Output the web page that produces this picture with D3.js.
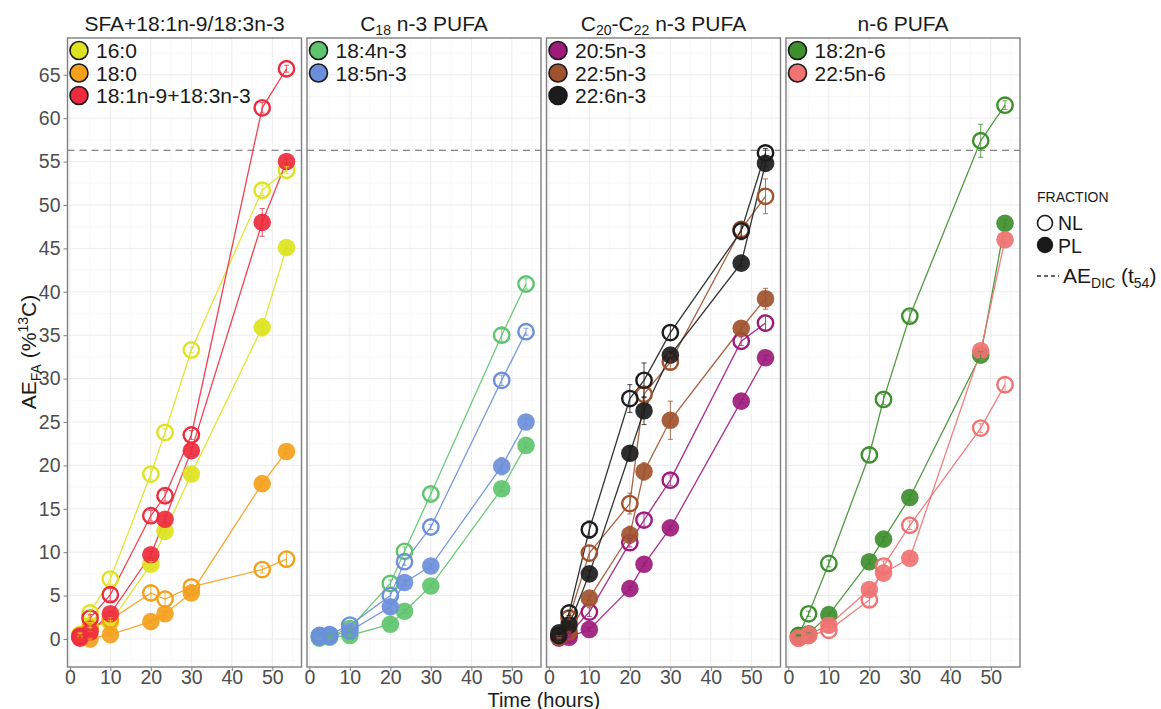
<!DOCTYPE html>
<html><head><meta charset="utf-8">
<script src="https://cdn.jsdelivr.net/npm/d3@7"></script>
<style>
body{margin:0;background:#fff}
text{font-family:"Liberation Sans",Arial,Helvetica,sans-serif}
</style>
</head><body>
<svg id="c" width="1161" height="709"></svg>
<script>
// ---------------- DATA ----------------
const times = [2.5, 5, 10, 20, 23.5, 30, 47.5, 53.5];
const xTicks = [0, 10, 20, 30, 40, 50];
const yTicks = [0, 5, 10, 15, 20, 25, 30, 35, 40, 45, 50, 55, 60, 65];
const aeDIC = 56.3;

const fattyAcids = ["16:0", "18:0", "18:1n-9+18:3n-3", "18:4n-3", "18:5n-3",
                    "20:5n-3", "22:5n-3", "22:6n-3", "18:2n-6", "22:5n-6"];
const faPanel = [0, 0, 0, 1, 1, 2, 2, 2, 3, 3];
const faColors = ["#dde31e", "#f5a01c", "#ee2b3e", "#5ec46d", "#6c8fdb",
                  "#9e1b7b", "#a0522d", "#1c1c1c", "#3e8f2e", "#f07272"];

// NL fraction (open circles), AE_FA %13C
const nlValues = [
  [0.5, 3.0, 6.9, 19.0, 23.8, 33.3, 51.7, 54.0],
  [0.4, 1.2, 2.2, 5.3, 4.6, 6.0, 8.0, 9.2],
  [0.3, 2.4, 5.1, 14.2, 16.5, 23.5, 61.2, 65.7],
  [0.3, 0.4, 1.2, 6.4, 10.1, 16.7, 35.0, 40.9],
  [0.4, 0.5, 1.6, 5.0, 8.9, 12.9, 29.8, 35.4],
  [0.3, 0.6, 3.1, 11.1, 13.7, 18.3, 34.3, 36.4],
  [0.2, 2.4, 9.9, 15.6, 28.2, 31.9, 47.2, 51.0],
  [0.4, 3.0, 12.6, 27.7, 29.8, 35.3, 47.0, 56.0],
  [0.4, 2.9, 8.7, 21.2, 27.6, 37.2, 57.4, 61.5],
  [0.1, 0.4, 1.0, 4.5, 8.4, 13.1, 24.3, 29.3]
];
// PL fraction (filled circles)
const plValues = [
  [0.3, 1.5, 1.9, 8.6, 12.4, 19.0, 35.9, 45.1],
  [0.2, 0.0, 0.5, 2.0, 2.9, 5.3, 17.9, 21.6],
  [0.1, 0.8, 2.9, 9.7, 13.8, 21.7, 48.0, 55.0],
  [0.1, 0.2, 0.4, 1.7, 3.2, 6.1, 17.3, 22.3],
  [0.2, 0.3, 0.9, 3.7, 6.5, 8.4, 19.9, 25.0],
  [0.1, 0.2, 1.1, 5.8, 8.6, 12.8, 27.4, 32.4],
  [0.3, 0.8, 4.7, 12.0, 19.3, 25.2, 35.8, 39.2],
  [0.7, 1.6, 7.5, 21.4, 26.3, 32.7, 43.3, 54.8],
  [0.3, 0.6, 2.8, 8.9, 11.5, 16.3, 32.7, 47.9],
  [0.1, 0.5, 1.6, 5.7, 7.6, 9.3, 33.2, 46.0]
];
// standard errors (error bars)
const nlErr = [
  [0.2, 0.3, 0.6, 0.6, 0.4, 0.3, 0.6, 0.4],
  [0.2, 0.3, 0.3, 0.8, 0.9, 0.3, 0.4, 0.9],
  [0.1, 0.4, 0.7, 0.6, 0.6, 0.5, 0.6, 0.4],
  [0.1, 0.1, 0.2, 0.4, 0.5, 0.6, 0.7, 0.6],
  [0.1, 0.1, 0.2, 0.5, 0.4, 0.3, 0.6, 0.4],
  [0.1, 0.1, 0.5, 0.5, 0.7, 0.6, 0.5, 0.9],
  [0.1, 0.2, 0.9, 1.2, 0.9, 0.8, 0.8, 2.0],
  [0.1, 0.3, 1.0, 1.6, 2.0, 0.8, 1.0, 0.5],
  [0.1, 0.3, 0.4, 0.8, 0.6, 0.6, 1.9, 0.5],
  [0.1, 0.1, 0.3, 0.7, 0.6, 0.5, 0.5, 0.8]
];
const plErr = [
  [0.1, 0.2, 0.2, 0.3, 0.3, 0.3, 1.0, 0.4],
  [0.1, 0.1, 0.2, 0.2, 0.3, 0.3, 0.3, 0.3],
  [0.1, 0.2, 0.3, 0.4, 0.4, 0.4, 1.6, 0.3],
  [0.1, 0.1, 0.1, 0.2, 0.2, 0.2, 0.3, 0.3],
  [0.1, 0.1, 0.2, 0.7, 0.3, 0.3, 1.0, 0.4],
  [0.1, 0.1, 0.2, 0.2, 0.2, 0.2, 0.2, 0.3],
  [0.1, 0.1, 0.3, 1.0, 1.0, 2.2, 0.5, 1.2],
  [0.1, 0.2, 0.4, 0.8, 1.6, 0.4, 0.4, 0.4],
  [0.1, 0.1, 0.2, 0.3, 0.3, 0.3, 0.4, 0.4],
  [0.1, 0.1, 0.2, 0.3, 0.9, 0.4, 0.4, 0.4]
];
// panel titles: [text, isSubscript] segments
const panelTitles = [
  [["SFA+18:1n-9/18:3n-3", false]],
  [["C", false], ["18", true], [" n-3 PUFA", false]],
  [["C", false], ["20", true], ["-C", false], ["22", true], [" n-3 PUFA", false]],
  [["n-6 PUFA", false]]
];

// ---------------- LAYOUT ----------------
const svg = d3.select("#c");
const panelLeft0 = 67.5, panelW = 234, panelGap = 5.5;
const plotTop = 38, plotBottom = 667;
const x = d3.scaleLinear().domain([-0.58, 57.2]).range([0, panelW]);
const y = d3.scaleLinear().domain([-3.23, 69.24]).range([plotBottom, plotTop]);
const tickColor = "#4d4d4d";

for (let p = 0; p < 4; p++) {
  const left = panelLeft0 + p * (panelW + panelGap);
  const g = svg.append("g").attr("transform", `translate(${left},0)`);

  // gridlines
  const minorY = d3.range(-2.5, 69, 5);
  const minorX = d3.range(5, 57, 10);
  g.selectAll(null).data(minorY).join("line")
    .attr("x1", 0).attr("x2", panelW).attr("y1", d => y(d)).attr("y2", d => y(d))
    .attr("stroke", "#f5f5f5").attr("stroke-width", 0.6);
  g.selectAll(null).data(minorX).join("line")
    .attr("y1", plotTop).attr("y2", plotBottom).attr("x1", d => x(d)).attr("x2", d => x(d))
    .attr("stroke", "#f5f5f5").attr("stroke-width", 0.6);
  g.selectAll(null).data(yTicks).join("line")
    .attr("x1", 0).attr("x2", panelW).attr("y1", d => y(d)).attr("y2", d => y(d))
    .attr("stroke", "#ececec").attr("stroke-width", 1);
  g.selectAll(null).data(xTicks).join("line")
    .attr("y1", plotTop).attr("y2", plotBottom).attr("x1", d => x(d)).attr("x2", d => x(d))
    .attr("stroke", "#ececec").attr("stroke-width", 1);

  // dashed AE_DIC line
  g.append("line").attr("x1", 0).attr("x2", panelW)
    .attr("y1", y(aeDIC)).attr("y2", y(aeDIC))
    .attr("stroke", "#666").attr("stroke-width", 1.1).attr("stroke-dasharray", "7,5");

  // series
  const idx = d3.range(fattyAcids.length).filter(i => faPanel[i] === p);
  const line = d3.line().x(d => x(d[0])).y(d => y(d[1]));
  idx.forEach(i => {
    [nlValues[i], plValues[i]].forEach(vals => {
      g.append("path").datum(times.map((t, k) => [t, vals[k]]))
        .attr("d", line).attr("fill", "none")
        .attr("stroke", faColors[i]).attr("stroke-width", 1.3).attr("opacity", 0.9);
    });
  });
  idx.forEach(i => {
    g.selectAll(null).data(times.map((t, k) => [t, plValues[i][k]])).join("circle")
      .attr("cx", d => x(d[0])).attr("cy", d => y(d[1])).attr("r", 8.8)
      .attr("fill", faColors[i]).attr("fill-opacity", 0.92);
    g.selectAll(null).data(times.map((t, k) => [t, nlValues[i][k]])).join("circle")
      .attr("cx", d => x(d[0])).attr("cy", d => y(d[1])).attr("r", 7.7)
      .attr("fill", "none").attr("stroke", faColors[i]).attr("stroke-width", 2.4);
  });
  idx.forEach(i => {
    [[nlValues[i], nlErr[i]], [plValues[i], plErr[i]]].forEach(([vals, errs]) => {
      const eb = g.selectAll(null).data(times.map((t, k) => [t, vals[k], errs[k]])).join("g");
      eb.append("line").attr("x1", d => x(d[0])).attr("x2", d => x(d[0]))
        .attr("y1", d => y(d[1] - d[2])).attr("y2", d => y(d[1] + d[2]))
        .attr("stroke", faColors[i]).attr("stroke-width", 1).attr("opacity", 0.8);
      [-1, 1].forEach(s => {
        eb.append("line").attr("x1", d => x(d[0]) - 2.5).attr("x2", d => x(d[0]) + 2.5)
          .attr("y1", d => y(d[1] + s * d[2])).attr("y2", d => y(d[1] + s * d[2]))
          .attr("stroke", faColors[i]).attr("stroke-width", 1).attr("opacity", 0.8);
      });
    });
  });

  // panel frame
  g.append("rect").attr("x", 0).attr("y", plotTop).attr("width", panelW).attr("height", plotBottom - plotTop)
    .attr("fill", "none").attr("stroke", "#7f7f7f").attr("stroke-width", 1.4);

  // in-panel legend
  idx.forEach((i, j) => {
    const cy = 50.5 + j * 22.5;
    g.append("circle").attr("cx", 11.5).attr("cy", cy).attr("r", 9)
      .attr("fill", faColors[i]).attr("stroke", "#1a1a1a").attr("stroke-width", 1.6);
    g.append("text").attr("x", 28.5).attr("y", cy + 7.6).attr("font-size", 21)
      .attr("fill", "#1a1a1a").text(fattyAcids[i]);
  });

  // title
  const tt = g.append("text").attr("x", panelW / 2).attr("y", 31)
    .attr("text-anchor", "middle").attr("font-size", 21).attr("fill", "#1a1a1a");
  let prevSub = false;
  panelTitles[p].forEach(([s, sub]) => {
    const ts = tt.append("tspan").text(s);
    if (sub) ts.attr("font-size", 14).attr("dy", prevSub ? 0 : 4);
    else if (prevSub) ts.attr("dy", -4);
    prevSub = sub;
  });

  // x axis
  const xa = g.append("g").attr("transform", `translate(0,${plotBottom})`)
    .call(d3.axisBottom(x).tickValues(xTicks).tickSize(4).tickPadding(-1));
  xa.select(".domain").remove();
  xa.selectAll("line").attr("stroke", "#7f7f7f");
  xa.selectAll("text").attr("font-size", 19.5).attr("fill", tickColor)
    .attr("font-family", "Liberation Sans, Arial, sans-serif");

  if (p === 0) {
    const ya = g.append("g").call(d3.axisLeft(y).tickValues(yTicks).tickSize(4).tickPadding(3));
    ya.select(".domain").remove();
    ya.selectAll("line").attr("stroke", "#7f7f7f");
    ya.selectAll("text").attr("font-size", 19.5).attr("fill", tickColor)
      .attr("font-family", "Liberation Sans, Arial, sans-serif");
  }
}

// axis titles
svg.append("text").attr("x", (panelLeft0 + 1020) / 2).attr("y", 706.5)
  .attr("text-anchor", "middle").attr("font-size", 20).attr("fill", "#1a1a1a").text("Time (hours)");
const yt = svg.append("text").attr("transform", "translate(36,352) rotate(-90)")
  .attr("text-anchor", "middle").attr("font-size", 21).attr("fill", "#1a1a1a");
yt.append("tspan").text("AE");
yt.append("tspan").text("FA").attr("font-size", 14).attr("dy", 5);
yt.append("tspan").text(" (%").attr("dy", -5);
yt.append("tspan").text("13").attr("font-size", 14).attr("dy", -8);
yt.append("tspan").text("C)").attr("dy", 8);

// right legend
const lg = svg.append("g");
lg.append("text").attr("x", 1037).attr("y", 202).attr("font-size", 14).attr("fill", "#1a1a1a").text("FRACTION");
lg.append("circle").attr("cx", 1045).attr("cy", 223).attr("r", 7.5)
  .attr("fill", "none").attr("stroke", "#1a1a1a").attr("stroke-width", 1.6);
lg.append("text").attr("x", 1058).attr("y", 230).attr("font-size", 19.5).attr("fill", "#1a1a1a").text("NL");
lg.append("circle").attr("cx", 1045).attr("cy", 245).attr("r", 8.2).attr("fill", "#1a1a1a");
lg.append("text").attr("x", 1058).attr("y", 252.5).attr("font-size", 19.5).attr("fill", "#1a1a1a").text("PL");
lg.append("line").attr("x1", 1037).attr("x2", 1059).attr("y1", 276).attr("y2", 276)
  .attr("stroke", "#333").attr("stroke-width", 1.3).attr("stroke-dasharray", "4,3");
const at = lg.append("text").attr("x", 1063).attr("y", 283).attr("font-size", 21).attr("fill", "#1a1a1a");
at.append("tspan").text("AE");
at.append("tspan").text("DIC").attr("font-size", 14).attr("dy", 5);
at.append("tspan").text(" (t").attr("dy", -5);
at.append("tspan").text("54").attr("font-size", 14).attr("dy", 5);
at.append("tspan").text(")").attr("dy", -5);
</script>
</body></html>
